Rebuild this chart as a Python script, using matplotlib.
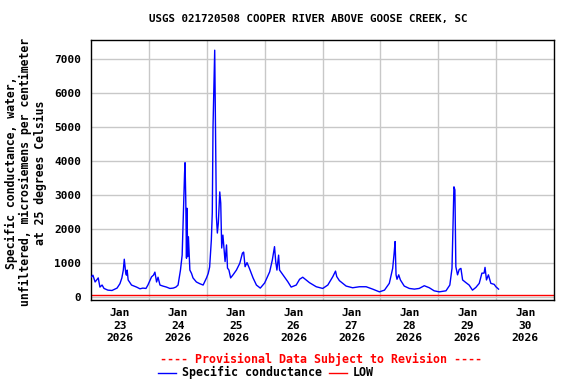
import matplotlib
matplotlib.use("Agg")
import matplotlib.pyplot as plt
import numpy as np

# hours since 2026-01-23 00:00
hours = [0.2, 0.8, 1.7, 3.0, 3.7, 4.6, 5.4, 7.0, 8.7, 10.8, 12.0, 12.8, 13.4, 13.8, 14.4, 14.7, 15.0, 15.4,
         16.8, 17.8, 18.9, 20.3, 21.5, 22.8, 23.6, 25.1, 25.9, 26.5, 27.2, 27.8, 28.6, 29.8, 31.3, 32.7,
         34.1, 35.2, 36.1, 37.1, 37.8, 38.2, 38.8, 39.0, 39.3, 39.6, 39.8, 40.1, 40.4, 41.0, 41.7, 42.3,
         43.7, 45.1, 46.5, 47.9, 48.6, 49.2, 49.9, 50.3, 50.6, 51.0, 51.3, 51.6, 52.0, 52.4, 52.8, 53.4,
         53.8, 54.2, 54.7, 55.2, 55.6, 56.2, 56.6, 57.2, 57.9, 58.9, 60.3, 61.7, 62.8, 63.3, 63.9, 64.7,
         65.8, 67.2, 68.6, 70.2, 72.0, 74.1, 75.2, 76.1, 76.6, 77.1, 77.8, 78.2, 79.6, 81.6, 83.0, 85.1,
         86.5, 87.8, 89.2, 90.6, 93.4, 96.1, 98.2, 100.3, 101.4, 101.9, 103.0, 105.8, 108.5, 111.3, 114.1,
         116.8, 119.6, 121.7, 123.7, 125.1, 125.7, 126.1, 126.5, 126.9, 127.6, 128.3, 129.9, 132.0, 134.1,
         136.1, 138.2, 140.3, 142.3, 144.4, 147.2, 148.8, 149.7, 150.1, 150.5, 150.9, 151.3, 152.0, 152.7,
         153.4, 154.1, 155.5, 156.8, 158.2, 159.6, 161.0, 162.1, 163.0, 163.4, 164.0, 164.8, 165.8, 167.2,
         167.9, 169.0]
conductance = [600, 650, 450, 570, 300, 360, 260, 210, 200, 270, 400, 570, 800, 1120, 710, 650, 800, 510,
               360, 330, 300, 250, 270, 260, 360, 600, 650, 740, 450, 590, 360, 330, 300, 260,
               270, 300, 360, 800, 1240, 2210, 3650, 3960, 2860, 1150, 2620, 1200, 1780, 800, 700, 570,
               450, 400, 360, 570, 700, 890, 1680, 2500, 5020, 6290, 7270, 5120, 2370, 1890, 2180, 3100,
               2770, 1450, 1830, 1390, 1050, 1540, 860, 800, 570, 660, 800, 1000, 1300, 1330, 900, 1020,
               830, 570, 360, 270, 420, 750, 1100, 1490, 1050, 800, 1240, 800, 660, 460, 300, 360,
               530, 590, 510, 430, 310, 260, 360, 610, 770, 610, 490, 330, 280, 310, 310,
               240, 160, 210, 410, 850, 1290, 1640, 660, 530, 660, 510, 330, 260, 240,
               260, 340, 280, 190, 160, 190, 360, 850, 2080, 3250, 3160, 900, 660, 820,
               850, 510, 430, 360, 210, 290, 410, 710, 710, 880, 510, 660, 410, 380,
               310, 240]
low_value = 60
day_labels = ["Jan\n23\n2026", "Jan\n24\n2026", "Jan\n25\n2026", "Jan\n26\n2026",
              "Jan\n27\n2026", "Jan\n28\n2026", "Jan\n29\n2026", "Jan\n30\n2026"]
y_ticks = [0, 1000, 2000, 3000, 4000, 5000, 6000, 7000]

font = "DejaVu Sans Mono"
plt.rcParams['font.family'] = [font]
plt.rcParams['font.weight'] = 'bold'

fig = plt.figure(figsize=(5.76, 3.84), dpi=100)
ax = fig.add_axes([91/576, 84/384, 463/576, 260/384])

ax.plot(hours, conductance, color="#0000ff", lw=1.0, zorder=3)
ax.axhline(low_value, color="#ff0000", lw=1.0, zorder=2)

ax.set_xlim(0, 192)
ax.set_ylim(-80, 7570)

ax.set_xticks([12 + 24 * i for i in range(len(day_labels))])
ax.set_xticklabels(day_labels, fontsize=8.1, fontweight='bold', linespacing=1.3)
ax.set_xticks([24 * i for i in range(1, 8)], minor=True)
ax.tick_params(axis='x', which='both', length=0, pad=6)
ax.grid(True, which='minor', axis='x', color="#c8c8c8", lw=1.0)

ax.set_yticks(y_ticks)
ax.set_yticklabels([str(v) for v in y_ticks], fontsize=8.0, fontweight='bold')
ax.tick_params(axis='y', length=0, pad=7)
ax.grid(True, which='major', axis='y', color="#c8c8c8", lw=1.0)
ax.set_axisbelow(True)
for s in ax.spines.values():
    s.set_color("black")
    s.set_linewidth(1.0)

fig.text(0.536, 0.951, "USGS 021720508 COOPER RIVER ABOVE GOOSE CREEK, SC",
         ha='center', va='center', fontsize=7.8, fontweight='bold')
fig.text(0.045, 0.551, "Specific conductance, water,\nunfiltered, microsiemens per centimeter\nat 25 degrees Celsius",
         ha='center', va='center', rotation=90, fontsize=8.3, fontweight='bold', linespacing=1.15)

fig.text(0.557, 0.065, "---- Provisional Data Subject to Revision ----",
         ha='center', va='center', fontsize=8.4, fontweight='bold', color="#ff0000")

# legend row
ly = 0.0295
fig.add_artist(plt.Line2D([158/576, 176/576], [ly, ly], color="#0000ff", lw=1.0))
fig.text(182/576, ly, "Specific conductance", ha='left', va='center', fontsize=8.4, fontweight='bold')
fig.add_artist(plt.Line2D([329/576, 347/576], [ly, ly], color="#ff0000", lw=1.0))
fig.text(353/576, ly, "LOW", ha='left', va='center', fontsize=8.4, fontweight='bold')

fig.savefig("out.png", dpi=100)
